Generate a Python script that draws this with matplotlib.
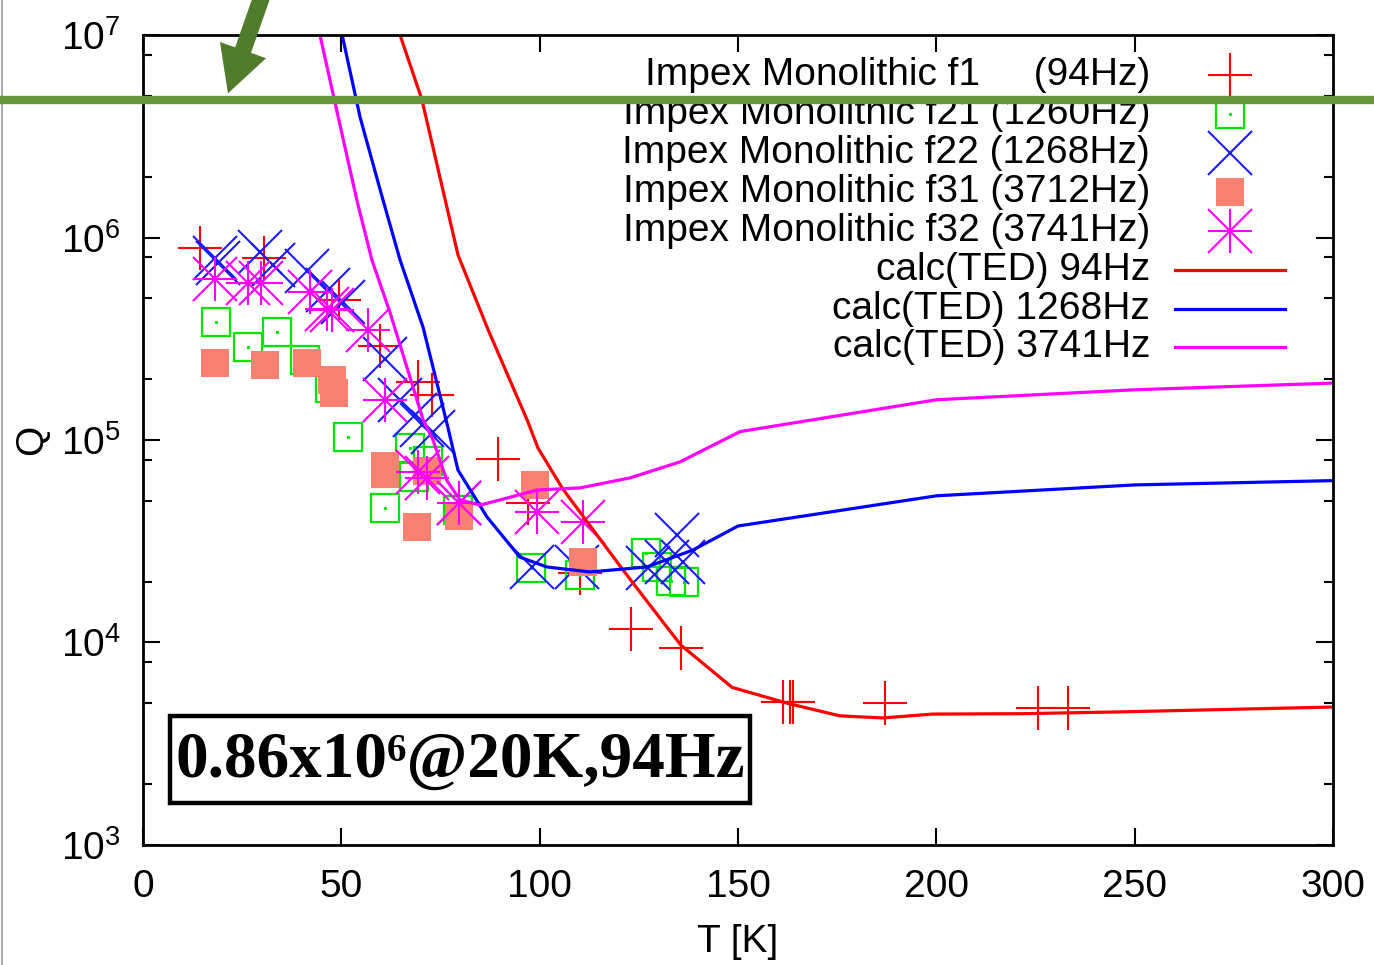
import math
import matplotlib
matplotlib.use('Agg')
import matplotlib.pyplot as plt
from matplotlib.ticker import LogLocator, FixedLocator, NullFormatter, FuncFormatter
from matplotlib.lines import Line2D
from matplotlib.patches import Rectangle, FancyArrowPatch

plt.rcParams['font.family'] = ['Liberation Sans', 'DejaVu Sans']
plt.rcParams['mathtext.default'] = 'regular'

# --- measured points (T [K], Q) ---
f1_T = [14.4, 30.5, 49.4, 59.7, 69.3, 72.8, 89.5, 97.0, 110.2, 123.1, 135.6,
        161.3, 163.1, 163.8, 187.0, 225.6, 233.2]
f1_Q = [8.9e5, 7.9e5, 4.9e5, 2.9e5, 1.94e5, 1.66e5, 8.1e4, 4.9e4, 2.2e4, 1.17e4, 9.4e3,
        5.1e3, 5.1e3, 5.1e3, 5.0e3, 4.75e3, 4.75e3]

f21_T = [18.4, 26.4, 33.8, 40.8, 47.1, 51.7, 67.3, 71.8, 68.3, 61.0, 79.4,
         97.8, 110.2, 126.8, 129.6, 133.1, 136.4]
f21_Q = [3.83e5, 2.88e5, 3.41e5, 2.48e5, 1.8e5, 1.04e5, 9.1e4, 7.9e4, 6.6e4, 4.6e4, 4.5e4,
         2.34e4, 2.15e4, 2.77e4, 2.36e4, 2.01e4, 1.99e4]

f22_T = [18.2, 18.9, 29.5, 32.8, 41.3, 46.6, 50.4, 61.0, 64.8, 68.6, 70.3, 73.1,
         79.7, 98.0, 109.4, 127.3, 132.1, 136.1, 134.6]
f22_Q = [7.9e5, 7.5e5, 8.5e5, 7.3e5, 6.8e5, 5.5e5, 4.8e5, 2.5e5, 1.58e5, 1.33e5, 1.19e5, 1.1e5,
         4.9e4, 2.36e4, 2.36e4, 2.33e4, 2.5e4, 2.5e4, 3.4e4]

f31_T = [18.2, 30.8, 41.3, 47.6, 48.1, 61.0, 61.0, 71.6, 69.1, 79.7, 98.8, 110.9]
f31_Q = [2.4e5, 2.34e5, 2.4e5, 1.98e5, 1.71e5, 7.4e4, 6.8e4, 7.0e4, 3.7e4, 4.2e4, 6.0e4, 2.5e4]

f32_T = [18.2, 26.5, 29.7, 42.1, 46.4, 47.6, 56.7, 61.0, 69.3, 71.6, 79.7, 99.3, 110.9]
f32_Q = [6.24e5, 5.96e5, 5.96e5, 5.38e5, 4.43e5, 4.39e5, 3.49e5, 1.58e5, 6.95e4, 6.5e4,
         4.9e4, 4.4e4, 3.93e4]

# --- calculated TED curves ---
ted94_T = [64.8, 70.3, 79.4, 87.0, 96.8, 99.6, 105.9, 121.0, 130.3, 135.6, 148.5,
           162.6, 175.7, 186.5, 199.1, 221.8, 246.0, 300.0]
ted94_Q = [1.0e7, 4.8e6, 8.2e5, 3.5e5, 1.26e5, 9.1e4, 5.7e4, 2.28e4, 1.32e4, 9.7e3, 6.0e3,
           5.0e3, 4.34e3, 4.24e3, 4.43e3, 4.45e3, 4.54e3, 4.8e3]

ted1268_T = [50.2, 54.7, 60.5, 64.8, 70.6, 76.6, 79.4, 86.7, 95.0, 101.8, 112.7, 127.0,
             138.6, 150.0, 200.0, 250.0, 300.0]
ted1268_Q = [1.0e7, 3.94e6, 1.53e6, 7.74e5, 3.6e5, 1.21e5, 7.1e4, 4.17e4, 2.64e4, 2.36e4,
             2.23e4, 2.36e4, 2.86e4, 3.76e4, 5.3e4, 6.0e4, 6.3e4]

ted3741_T = [44.6, 49.2, 53.9, 57.7, 62.3, 70.6, 73.1, 76.6, 79.9, 85.0, 90.0, 99.3, 110.2,
             122.8, 135.4, 150.5, 200.0, 250.0, 300.0]
ted3741_Q = [1.0e7, 3.94e6, 1.53e6, 7.74e5, 4.24e5, 1.26e5, 1.0e5, 6.3e4, 5.06e4, 4.77e4,
             5.06e4, 5.66e4, 5.8e4, 6.5e4, 7.8e4, 1.1e5, 1.58e5, 1.77e5, 1.91e5]

legend_labels = ['Impex Monolithic f1     (94Hz)',
                 'Impex Monolithic f21 (1260Hz)',
                 'Impex Monolithic f22 (1268Hz)',
                 'Impex Monolithic f31 (3712Hz)',
                 'Impex Monolithic f32 (3741Hz)',
                 'calc(TED) 94Hz',
                 'calc(TED) 1268Hz',
                 'calc(TED) 3741Hz']

RED, GREEN, BLUE, SALMON, MAG = '#ff0000', '#00e600', '#1a1aff', '#fa8072', '#ff00ff'
FS = 28
MS = 32

fig = plt.figure(figsize=(13.74, 9.65), dpi=100)
ax = fig.add_axes([0.1041, 0.1244, 0.8661, 0.8393])

# point styles (gnuplot-like)
def plus(x, y, c, **kw):
    ax.plot(x, y, ls='none', marker='+', ms=MS, mew=1.5, color=c, **kw)

def cross(x, y, c, **kw):
    ax.plot(x, y, ls='none', marker='x', ms=MS, mew=1.5, color=c, **kw)

def box_open(x, y, **kw):
    ax.plot(x, y, ls='none', marker='s', ms=19.5, mfc='none', mec=GREEN, mew=1.6, **kw)
    ax.plot(x, y, ls='none', marker='s', ms=1.2, color=GREEN, **kw)

def box_fill(x, y, **kw):
    ax.plot(x, y, ls='none', marker='s', ms=19.5, color=SALMON, mew=0, **kw)

def star(x, y, **kw):
    ax.plot(x, y, ls='none', marker='+', ms=MS, mew=1.5, color=MAG, **kw)
    ax.plot(x, y, ls='none', marker='x', ms=MS, mew=1.5, color=MAG, **kw)

plus(f1_T, f1_Q, RED)
box_open(f21_T, f21_Q)
cross(f22_T, f22_Q, BLUE)
box_fill(f31_T, f31_Q)
star(f32_T, f32_Q)

ax.plot(ted94_T, ted94_Q, color=RED, lw=2.3)
ax.plot(ted1268_T, ted1268_Q, color='#0000ff', lw=2.3)
ax.plot(ted3741_T, ted3741_Q, color=MAG, lw=2.3)

ax.set_yscale('log')
ax.set_xlim(0, 300)
ax.set_ylim(1e3, 1e7)

ax.xaxis.set_major_locator(FixedLocator([0, 50, 100, 150, 200, 250, 300]))
ax.yaxis.set_major_locator(LogLocator(base=10, numticks=10))
ax.yaxis.set_minor_locator(LogLocator(base=10, subs=[2, 5, 8], numticks=20))
ax.yaxis.set_minor_formatter(NullFormatter())
ax.yaxis.set_major_formatter(FuncFormatter(
    lambda v, p: r'$\mathregular{10^{%d}}$' % round(math.log10(v))))

ax.tick_params(which='both', direction='in', top=True, right=True, width=1.5, labelsize=FS)
ax.tick_params(which='major', length=12)
ax.tick_params(which='minor', length=6.5)
ax.tick_params(axis='x', pad=17)
ax.tick_params(axis='y', pad=16)
for s in ax.spines.values():
    s.set_linewidth(2.0)

ax.set_xlabel('T [K]', fontsize=FS, labelpad=14)
ax.set_ylabel('Q', fontsize=FS, labelpad=8)

# legend drawn entry by entry (text right aligned, key on the right)
leg_y = [0.9505, 0.9024, 0.8542, 0.8061, 0.7579, 0.7098, 0.6616, 0.6147]
tx, kx = 0.8462, 0.9134
tr = ax.transAxes
for lab, yy in zip(legend_labels, leg_y):
    ax.text(tx, yy, lab, transform=tr, ha='right', va='center', fontsize=FS)
plus([kx], [leg_y[0]], RED, transform=tr)
box_open([kx], [leg_y[1]], transform=tr)
cross([kx], [leg_y[2]], BLUE, transform=tr)
box_fill([kx], [leg_y[3]], transform=tr)
star([kx], [leg_y[4]], transform=tr)
for c, yy in zip([RED, '#0000ff', MAG], leg_y[5:]):
    ax.plot([0.8672, 0.9597], [yy, yy], transform=tr, color=c, lw=2.3)

# annotation box
ax.add_patch(Rectangle((0.0227, 0.0519), 0.4874, 0.1074, transform=tr,
                       fill=False, lw=3.2, ec='black', zorder=5))
ax.text(0.2664, 0.104, '0.86x10\u2076@20K,94Hz', transform=tr, ha='center', va='center',
        fontsize=47, fontweight='bold', family=['Liberation Serif', 'DejaVu Serif'], zorder=5)

# green overlay line and arrow on top of the figure
fig.add_artist(Line2D([0, 1], [1 - 100 / 965, 1 - 100 / 965], transform=fig.transFigure,
                      color='#67983b', lw=6, zorder=20))
fig.add_artist(FancyArrowPatch((264 / 1374, 1.01), (227 / 1374, 1 - 96 / 965),
                               transform=fig.transFigure,
                               arrowstyle='simple,head_length=1.5,head_width=1.6,tail_width=0.55',
                               mutation_scale=22, color='#507c2c', lw=0, zorder=21))
fig.add_artist(Line2D([1.5 / 1374, 1.5 / 1374], [0, 1], transform=fig.transFigure,
                      color='#9a9a9a', lw=1.2))

fig.savefig('out.png', dpi=100, facecolor='white')
